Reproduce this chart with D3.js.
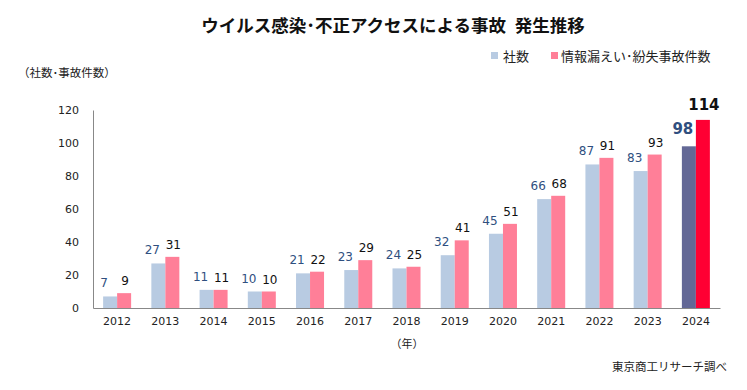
<!DOCTYPE html>
<html>
<head>
<meta charset="utf-8">
<script src="https://cdn.jsdelivr.net/npm/d3@7"></script>
<style>
body{margin:0;background:#fff;}
text{font-family:"DejaVu Sans","Noto Sans CJK JP",sans-serif;}
.jp{font-family:"Noto Sans CJK JP",sans-serif;}
</style>
</head>
<body>
<div id="root"></div>
<script>
//data
var years=['2012','2013','2014','2015','2016','2017','2018','2019','2020','2021','2022','2023','2024'];
var companies=[7,27,11,10,21,23,24,32,45,66,87,83,98];
var incidents=[9,31,11,10,22,29,25,41,51,68,91,93,114];
var yTicks=[0,20,40,60,80,100,120];

var W=747,H=390;
var svg=d3.select('#root').append('svg').attr('width',W).attr('height',H);

//scales
var xScale=d3.scaleBand().domain(years).range([93,720]);
var yScale=d3.scaleLinear().domain([0,120]).range([308,110]);
var barW=14;

//title
svg.append('text').attr('class','jp').attr('x',393).attr('y',32).attr('text-anchor','middle')
  .style('font-size','17.5px').style('font-weight','bold').attr('fill','#111')
  .text('ウイルス感染･不正アクセスによる事故\u2002発生推移');

//legend
svg.append('rect').attr('x',491).attr('y',52).attr('width',7).attr('height',7).attr('fill','#b8cbe2');
svg.append('text').attr('class','jp').attr('x',503).attr('y',61).style('font-size','13px').attr('fill','#222').text('社数');
svg.append('rect').attr('x',551).attr('y',52).attr('width',7).attr('height',7).attr('fill','#ff7f98');
svg.append('text').attr('class','jp').attr('x',561).attr('y',61).style('font-size','13px').attr('fill','#222').text('情報漏えい･紛失事故件数');

//axis labels
svg.append('text').attr('class','jp').attr('x',18).attr('y',77).style('font-size','11.5px').attr('fill','#222').text('（社数･事故件数）');
svg.append('text').attr('class','jp').attr('x',407).attr('y',348).attr('text-anchor','middle').style('font-size','11px').attr('fill','#222').text('（年）');
svg.append('text').attr('class','jp').attr('x',727).attr('y',371).attr('text-anchor','end').style('font-size','11.5px').attr('fill','#222').text('東京商工リサーチ調べ');

//y axis
var yAxis=d3.axisLeft(yScale).tickValues(yTicks).tickSize(0).tickPadding(14);
var gy=svg.append('g').attr('transform','translate(93,0)').call(yAxis);
gy.select('.domain').attr('stroke','#888');
gy.selectAll('text').style('font-size','11px').attr('fill','#222');

//x axis
var xAxis=d3.axisBottom(xScale).tickSize(0).tickPadding(9);
var gx=svg.append('g').attr('transform','translate(0,308)').call(xAxis);
gx.select('.domain').attr('stroke','#888');
gx.selectAll('text').style('font-size','11px').attr('fill','#222');

var last=years[years.length-1];

//bars
var g=svg.append('g');
g.selectAll('.bc').data(years).enter().append('rect')
  .attr('x',function(d){return xScale(d)+xScale.bandwidth()/2-barW})
  .attr('y',function(d,i){return yScale(companies[i])})
  .attr('width',barW)
  .attr('height',function(d,i){return 308-yScale(companies[i])})
  .attr('fill',function(d){return d==last?'#636896':'#b8cbe2'});
g.selectAll('.bi').data(years).enter().append('rect')
  .attr('x',function(d){return xScale(d)+xScale.bandwidth()/2})
  .attr('y',function(d,i){return yScale(incidents[i])})
  .attr('width',barW)
  .attr('height',function(d,i){return 308-yScale(incidents[i])})
  .attr('fill',function(d){return d==last?'#ff0033':'#ff7f98'});

//labels
g.selectAll('.lc').data(years).enter().append('text')
  .attr('x',function(d){return xScale(d)+xScale.bandwidth()/2-barW/2-6})
  .attr('y',function(d,i){return yScale(companies[i])-(d==last?12:9)})
  .attr('text-anchor','middle')
  .style('font-size',function(d){return d==last?'15px':'12px'})
  .style('font-weight',function(d){return d==last?'bold':'normal'})
  .attr('fill','#2f4f7f')
  .text(function(d,i){return companies[i]});
g.selectAll('.li').data(years).enter().append('text')
  .attr('x',function(d){return xScale(d)+xScale.bandwidth()/2+barW/2+1})
  .attr('y',function(d,i){return yScale(incidents[i])-(d==last?10:8)})
  .attr('text-anchor','middle')
  .style('font-size',function(d){return d==last?'15px':'12px'})
  .style('font-weight',function(d){return d==last?'bold':'normal'})
  .attr('fill','#111')
  .text(function(d,i){return incidents[i]});
</script>
</body>
</html>
